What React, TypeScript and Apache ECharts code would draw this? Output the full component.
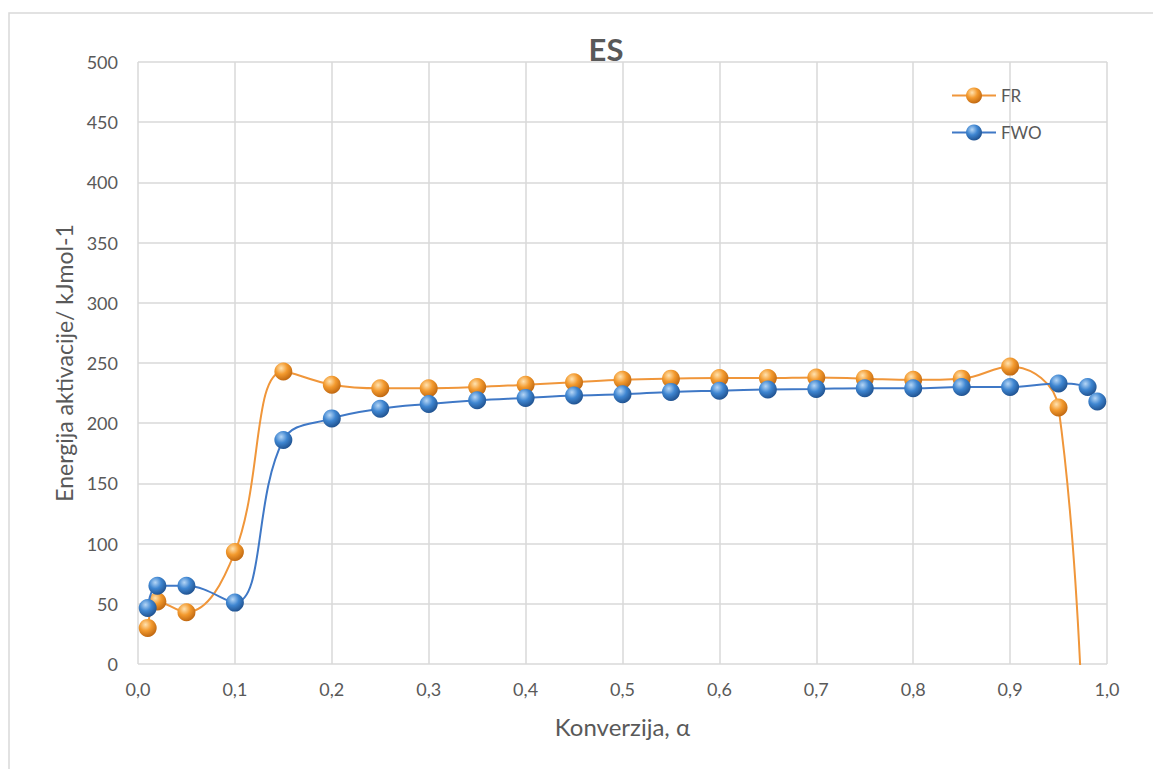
import React, { useEffect, useRef } from "react";
import * as echarts from "echarts";

const titleText = "ES";
const xAxisName = "Konverzija, α";
const yAxisName = "Energija aktivacije/ kJmol-1";

const frX = [0.01, 0.02, 0.05, 0.1, 0.15, 0.2, 0.25, 0.3, 0.35, 0.4, 0.45, 0.5, 0.55, 0.6, 0.65, 0.7, 0.75, 0.8, 0.85, 0.9, 0.95, 0.98];
const frY = [30, 52, 43, 93, 243, 232, 229, 229, 230, 232, 234, 236, 237, 237.5, 237.5, 238, 237, 236, 237, 247, 213, -220];

const fwoX = [0.01, 0.02, 0.05, 0.1, 0.15, 0.2, 0.25, 0.3, 0.35, 0.4, 0.45, 0.5, 0.55, 0.6, 0.65, 0.7, 0.75, 0.8, 0.85, 0.9, 0.95, 0.98, 0.99];
const fwoY = [46.5, 65, 65, 51, 186, 204, 212, 216, 219, 221, 223, 224, 226, 227, 228, 228.5, 229, 229, 230, 230, 233, 230, 218];

const FONT = "Lato, 'Open Sans', sans-serif";
const TEXT = "#595959";

function ball(light: string, mid: string, dark: string) {
  return new echarts.graphic.RadialGradient(0.38, 0.32, 0.75, [
    { offset: 0, color: light },
    { offset: 0.45, color: mid },
    { offset: 1, color: dark },
  ]);
}

export default function App() {
  const ref = useRef<HTMLDivElement>(null);
  useEffect(() => {
    document.body.style.margin = "0";
    const chart = echarts.init(ref.current!, null, { renderer: "svg" });
    const fmt = (v: number) => v.toFixed(1).replace(".", ",");
    chart.setOption({
      animation: false,
      backgroundColor: "#ffffff",
      title: {
        text: titleText,
        left: 601,
        top: 28,
        textAlign: "center",
        textStyle: { fontFamily: FONT, fontSize: 31, fontWeight: "bold", color: TEXT },
      },
      legend: {
        orient: "vertical",
        left: 946,
        top: 82,
        itemGap: 20,
        itemWidth: 44,
        itemHeight: 20,
        textStyle: { fontFamily: FONT, fontSize: 17, color: TEXT },
        data: ["FR", "FWO"],
      },
      graphic: [
        {
          type: "rect",
          shape: { x: 9, y: 13, width: 1200, height: 800 },
          style: { fill: "none", stroke: "#d9d9d9", lineWidth: 1.5 },
          silent: true,
        },
      ],
      grid: { left: 138, right: 46, top: 62, bottom: 105 },
      xAxis: {
        type: "value",
        min: 0,
        max: 1,
        interval: 0.1,
        name: xAxisName,
        nameLocation: "middle",
        nameGap: 50,
        nameTextStyle: { fontFamily: FONT, fontSize: 24, color: TEXT },
        axisLine: { show: false },
        axisTick: { show: false },
        axisLabel: { formatter: fmt, fontFamily: FONT, fontSize: 18, color: TEXT, margin: 16 },
        splitLine: { show: true, lineStyle: { color: "#d9d9d9", width: 1.5 } },
      },
      yAxis: {
        type: "value",
        min: 0,
        max: 500,
        interval: 50,
        name: yAxisName,
        nameLocation: "middle",
        nameGap: 56,
        nameTextStyle: { fontFamily: FONT, fontSize: 23, color: TEXT },
        axisLine: { show: false },
        axisTick: { show: false },
        axisLabel: { fontFamily: FONT, fontSize: 18, color: TEXT, margin: 20 },
        splitLine: { show: true, lineStyle: { color: "#d9d9d9", width: 1.5 } },
      },
      series: [
        {
          name: "FR",
          type: "line",
          smooth: 0.4,
          symbol: "circle",
          symbolSize: 18,
          clip: true,
          data: frX.map((x, i) => [x, frY[i]]),
          lineStyle: { color: "#f0963a", width: 2 },
          itemStyle: { color: ball("#ffe2b0", "#f39a2e", "#b8600c") },
          z: 2,
        },
        {
          name: "FWO",
          type: "line",
          smooth: 0.4,
          symbol: "circle",
          symbolSize: 18,
          clip: true,
          data: fwoX.map((x, i) => [x, fwoY[i]]),
          lineStyle: { color: "#3f78c6", width: 2 },
          itemStyle: { color: ball("#b5d6f6", "#3f86d1", "#1b4a86") },
          z: 3,
        },
      ],
    });
    return () => chart.dispose();
  }, []);
  return <div ref={ref} style={{ width: 1153, height: 769 }} />;
}
